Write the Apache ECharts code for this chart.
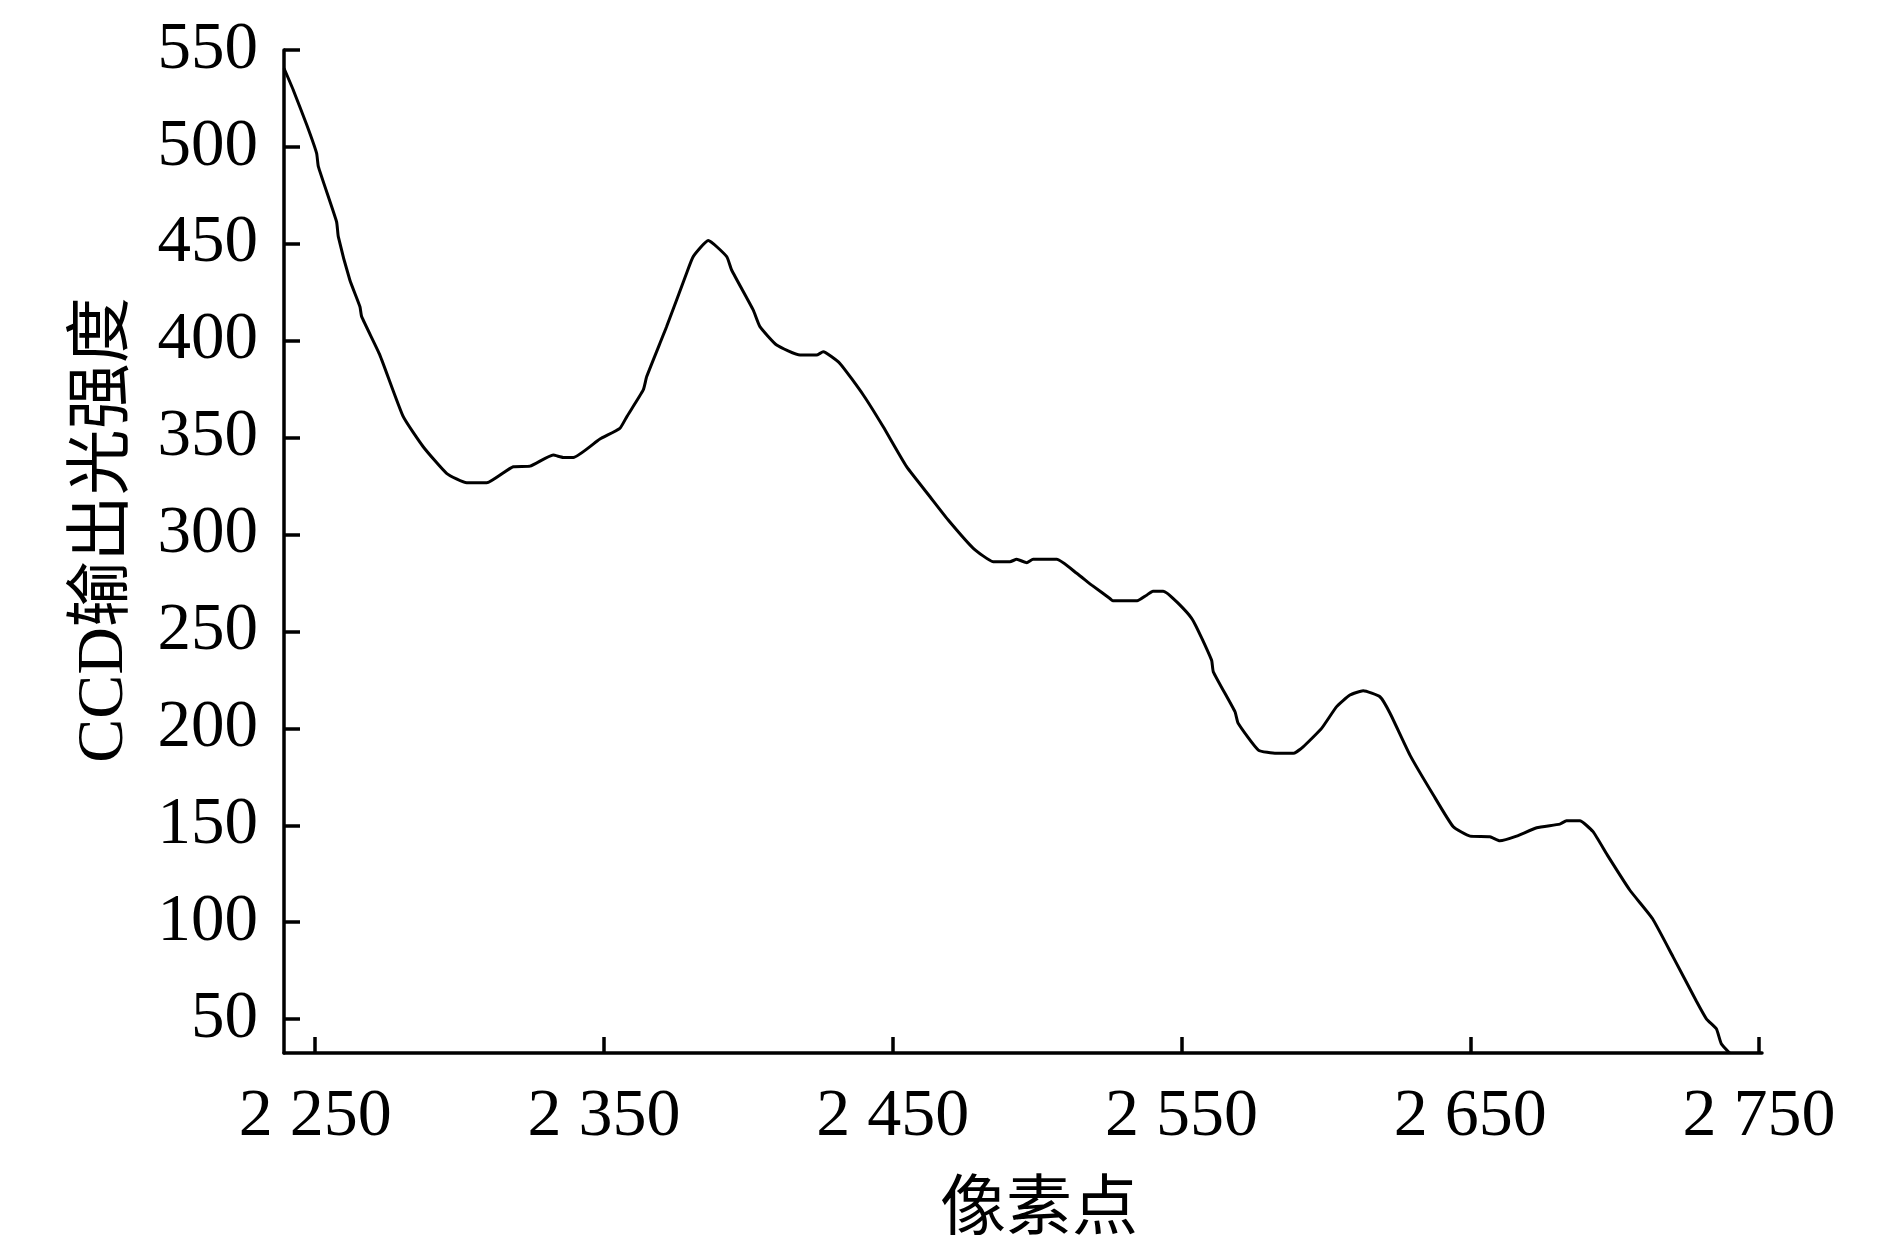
<!DOCTYPE html>
<html>
<head>
<meta charset="utf-8">
<script src="https://cdn.jsdelivr.net/npm/echarts@6/dist/echarts.min.js"></script>
<style>
  html, body { margin: 0; padding: 0; background: #fff; }
  #chart { width: 1890px; height: 1252px; }
</style>
</head>
<body>
<div id="chart"></div>
<script>
// pixel index (x) and CCD output intensity (y)
const pixelX = [
  2239.2, 2242.4, 2247.1, 2250.5, 2251.1, 2257.4, 2258, 2262, 2265.5, 2266.1,
  2272.4, 2280.5, 2287.4, 2295.5, 2302.5, 2309.4, 2318.6, 2324.4, 2332.4, 2335.9,
  2339.4, 2348.6, 2355.5, 2357.9, 2363.6, 2364.8, 2371.7, 2378.6, 2380.9, 2386.1,
  2392.5, 2394.2, 2401.7, 2404, 2409.8, 2417.9, 2423.6, 2425.9, 2431.7, 2439.8,
  2446.7, 2454.8, 2462.9, 2469.2, 2477.9, 2484.8, 2490.6, 2492.9, 2496.4, 2498.6,
  2506.8, 2513.7, 2518.9, 2525.2, 2526.2, 2534.6, 2537.9, 2540.1, 2543.6, 2553.5,
  2560.4, 2561, 2568.5, 2569.6, 2576.6, 2582.9, 2588.7, 2592.1, 2598.5, 2603.7,
  2608.3, 2612.9, 2618.7, 2622.2, 2629.1, 2637.2, 2644.1, 2649.9, 2656.8, 2660.2,
  2666, 2673, 2681, 2683.3, 2687.9, 2692.5, 2697.4, 2705.2, 2713, 2720.2,
  2728.3, 2731.8, 2735.2, 2736.9, 2739.8
];
const intensity = [
  540.6, 529.4, 511.3, 496.7, 489.8, 461.4, 453.7, 431.3, 417.5, 412.4,
  392.6, 360.8, 345.3, 331.6, 326.7, 326.7, 335, 335.3, 341, 339.8,
  339.8, 349.3, 354.8, 360.8, 374.6, 381.5, 407.3, 434.8, 443.4, 451.7,
  443.4, 436.5, 415.8, 407.3, 397.8, 392.6, 392.6, 394.3, 388.3, 372,
  355.6, 335, 319.5, 307.5, 292.9, 286, 286, 287.2, 285.5, 287.2,
  287.2, 280, 273.9, 267, 265.8, 265.8, 268.7, 270.8, 270.8, 256.8,
  235.2, 229.2, 208.6, 202.6, 188.8, 187.1, 187.1, 190.5, 200, 211.2,
  217.2, 219.4, 216.3, 207.8, 186.2, 165.6, 149.2, 144.4, 144.1, 142,
  144.4, 148.7, 150.6, 152.3, 152.3, 146.7, 134.7, 116.6, 102, 82.1,
  59.2, 50, 45, 37.3, 32.5
];
const xTicks = [2250, 2350, 2450, 2550, 2650, 2750];
const yTicks = [50, 100, 150, 200, 250, 300, 350, 400, 450, 500, 550];

const chart = echarts.init(document.getElementById('chart'));
const font = '"Liberation Serif", "Times New Roman", "Noto Sans CJK SC", serif';
const axisLine = { show: true, lineStyle: { color: '#000', width: 3.5 } };
const axisTick = { show: true, inside: true, length: 16, lineStyle: { color: '#000', width: 3.5 } };

chart.setOption({
  animation: false,
  backgroundColor: '#fff',
  grid: { left: 284, right: 128, top: 50, bottom: 199 },
  xAxis: {
    type: 'value',
    min: 2239.2,
    max: 2751,
    name: '像素点',
    nameLocation: 'middle',
    nameGap: 126,
    nameTextStyle: { fontFamily: font, fontSize: 66, color: '#000', padding: [0, 0, 0, 32] },
    axisLine: axisLine,
    axisTick: Object.assign({ customValues: xTicks }, axisTick),
    splitLine: { show: false },
    axisLabel: {
      customValues: xTicks,
      margin: 30,
      fontFamily: font,
      fontSize: 68,
      color: '#000',
      formatter: function (v) {
        const s = String(v);
        return s.slice(0, 1) + ' ' + s.slice(1);
      }
    }
  },
  yAxis: {
    type: 'value',
    min: 32.5,
    max: 550,
    name: 'CCD输出光强度',
    nameLocation: 'middle',
    nameGap: 146,
    nameTextStyle: { fontFamily: font, fontSize: 66, color: '#000', padding: [0, 0, 0, 43] },
    axisLine: axisLine,
    axisTick: Object.assign({ customValues: yTicks }, axisTick),
    splitLine: { show: false },
    axisLabel: {
      customValues: yTicks,
      margin: 26,
      fontFamily: font,
      fontSize: 67,
      color: '#000'
    }
  },
  series: [{
    type: 'line',
    data: pixelX.map(function (x, i) { return [x, intensity[i]]; }),
    showSymbol: false,
    smooth: 0.15,
    lineStyle: { color: '#000', width: 3 },
    clip: false
  }]
});
</script>
</body>
</html>
